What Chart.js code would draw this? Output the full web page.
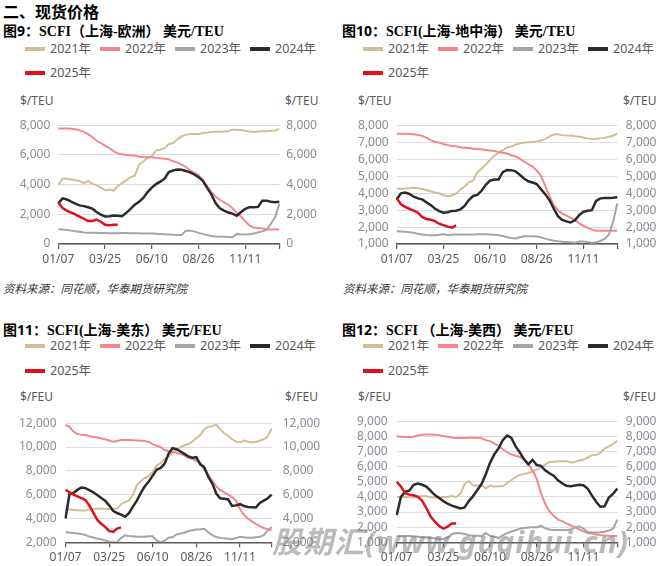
<!DOCTYPE html>
<html>
<head>
<meta charset="utf-8">
<script src="https://cdn.jsdelivr.net/npm/chart.js@4.4.1/dist/chart.umd.min.js"></script>
<style>
  body { margin: 0; width: 661px; height: 566px; background: #fff; position: relative; overflow: hidden;
         font-family: 'Noto Sans', 'Noto Sans CJK SC', sans-serif; }
  .abs { position: absolute; white-space: nowrap; }
  .head { font-size: 16px; font-weight: bold; line-height: 20px; color: #000; }
  .title { font-size: 14px; font-weight: bold; line-height: 18px; color: #000; }
  .title .ser { font-family: 'Liberation Serif', 'Noto Sans CJK SC', serif; }
  .unit { font-size: 12px; line-height: 16px; color: #595959; }
  .src { font-size: 11.5px; line-height: 16px; font-style: italic; color: #333; }
  .leg { font-size: 12.5px; line-height: 16px; color: #595959; }
  .sw { position: absolute; width: 20px; height: 4px; }
  canvas { position: absolute; }
  .wm { font-size: 30px; font-weight: bold; font-style: italic; color: rgba(120,120,120,0.5); letter-spacing: 1px; }
</style>
</head>
<body>
<div class="abs head" style="left:3px;top:2px">二、现货价格</div>

<div class="abs title" style="left:3px;top:22px">图9：<span class="ser">SCFI（上海-欧洲） 美元/TEU</span></div>
<div class="abs title" style="left:342px;top:22px">图10：<span class="ser">SCFI(上海-地中海） 美元/TEU</span></div>
<div class="abs title" style="left:3px;top:321px">图11：<span class="ser">SCFI(上海-美东） 美元/FEU</span></div>
<div class="abs title" style="left:342px;top:321px">图12：<span class="ser">SCFI （上海-美西） 美元/FEU</span></div>

<div class="abs unit" style="left:20px;top:93px">$/TEU</div>
<div class="abs unit" style="left:285px;top:93px">$/TEU</div>
<div class="abs unit" style="left:358px;top:93px">$/TEU</div>
<div class="abs unit" style="left:623px;top:93px">$/TEU</div>
<div class="abs unit" style="left:20px;top:389px">$/FEU</div>
<div class="abs unit" style="left:285px;top:389px">$/FEU</div>
<div class="abs unit" style="left:358px;top:389px">$/FEU</div>
<div class="abs unit" style="left:623px;top:389px">$/FEU</div>

<div class="abs src" style="left:3px;top:281px">资料来源：同花顺，华泰期货研究院</div>
<div class="abs src" style="left:343px;top:281px">资料来源：同花顺，华泰期货研究院</div>

<div id="legends"></div>

<canvas id="c9" width="330" height="165" style="left:0px;top:110px"></canvas>
<canvas id="c10" width="331" height="165" style="left:330px;top:110px"></canvas>
<canvas id="c11" width="330" height="161" style="left:0px;top:405px"></canvas>
<canvas id="c12" width="331" height="161" style="left:330px;top:405px"></canvas>

<div class="abs wm" style="left:272px;top:518px">股期汇(www.guqihui.cn)</div>

<script>
const weeks = ['01/07','01/14','01/21','01/28','02/04','02/11','02/18','02/25','03/04','03/11','03/18','03/25',
  '04/01','04/08','04/15','04/22','04/29','05/06','05/13','05/20','05/27','06/03','06/10','06/17','06/24',
  '07/01','07/08','07/15','07/22','07/29','08/05','08/12','08/19','08/26','09/02','09/09','09/16','09/23','09/30',
  '10/07','10/14','10/21','10/28','11/04','11/11','11/18','11/25','12/02','12/09','12/16','12/23','12/30','01/06'];

const seriesNames = ['2021年', '2022年', '2023年', '2024年', '2025年'];
const seriesColors = ['#D2BD96', '#F4868C', '#A5A5A5', '#2B2B2B', '#E0101A'];
const seriesWidths = [2, 2, 2, 2.5, 2.5];

// 图9 上海-欧洲 $/TEU
const euro2021 = [4000,4400,4400,4350,4300,4250,4100,4250,4050,3950,3800,3620,3670,3600,3900,4100,4300,4500,4600,5350,
  5550,5800,5900,6300,6350,6450,6720,6800,7050,7250,7350,7400,7400,7400,7480,7500,7550,7560,7560,7580,
  7600,7700,7680,7670,7620,7580,7550,7580,7600,7600,7620,7650,7750];
const euro2022 = [7780,7780,7780,7760,7720,7650,7550,7400,7200,6950,6800,6620,6450,6250,6100,6050,6000,5980,5950,5880,
  5850,5850,5840,5800,5770,5740,5700,5570,5500,5350,5200,4950,4800,4640,4300,3900,3500,3200,2980,2800,
  2650,2400,2100,1850,1520,1250,1100,1080,1050,1000,980,970,970];
const euro2023 = [1000,980,950,900,860,820,780,750,750,750,740,740,720,720,720,740,740,730,720,720,
  710,710,700,690,680,660,640,620,600,600,900,900,850,750,680,600,540,510,490,480,
  470,450,680,650,640,660,700,780,850,950,1350,1800,2700];
const euro2024 = [2740,3070,3000,2850,2720,2600,2550,2470,2380,2150,1980,1860,1870,1920,1900,1870,2100,2360,2650,2850,
  3100,3500,3800,4030,4200,4400,4850,4950,5020,5000,4920,4820,4680,4500,4250,3800,3350,2750,2400,2250,
  2120,2050,1900,2150,2360,2480,2480,2500,2920,2920,2850,2820,2850];
const euro2025 = [2800,2420,2250,2120,2000,1850,1700,1550,1550,1650,1500,1300,1270,1300,1300];

// 图10 上海-地中海 $/TEU
const med2021 = [4270,4270,4280,4300,4330,4300,4250,4190,4120,4050,4000,3880,3840,3870,3980,4220,4400,4650,4750,5250,
  5450,5700,5970,6240,6400,6550,6720,6760,6880,6950,7000,7020,7040,7060,7120,7220,7350,7480,7500,7440,
  7420,7420,7370,7340,7300,7250,7220,7230,7250,7280,7350,7400,7550];
const med2022 = [7520,7520,7520,7510,7500,7450,7400,7300,7150,7050,7000,6920,6850,6800,6780,6720,6700,6680,6630,6610,
  6600,6560,6530,6500,6450,6400,6350,6250,6180,6050,5880,5720,5600,5350,5050,4450,3840,3300,3000,2800,
  2680,2550,2420,2220,2080,1950,1850,1780,1780,1780,1780,1800,1780];
const med2023 = [1750,1740,1720,1700,1660,1600,1560,1530,1520,1520,1550,1580,1530,1550,1560,1560,1560,1560,1560,1570,
  1580,1570,1560,1550,1520,1480,1400,1350,1330,1400,1460,1460,1460,1450,1400,1320,1250,1200,1170,1140,
  1120,1100,1080,1150,1150,1120,1080,1100,1180,1300,1550,2300,3400];
const med2024 = [3650,4000,4040,3960,3800,3700,3640,3470,3300,3100,2950,2850,2880,2960,2970,3050,3250,3600,3840,3900,
  4150,4500,4750,4810,4810,5250,5380,5370,5300,5100,4880,4710,4640,4550,4250,3950,3600,3100,2650,2420,
  2340,2270,2400,2700,2900,2970,3000,3550,3700,3720,3720,3730,3760];
const med2025 = [3700,3350,3200,3080,2970,2850,2600,2480,2440,2350,2200,2120,2030,1970,2100];

// 图11 上海-美东 $/FEU
const east2021 = [4780,4750,4720,4700,4660,4660,4760,4800,4820,4830,4820,4800,4800,4830,5200,5380,5500,6000,6800,7150,
  7400,7550,7900,8450,8650,9000,9200,9500,9750,10000,10150,10250,10450,10750,11000,11500,11700,11750,11900,11500,
  11150,10950,10650,10450,10380,10550,10450,10400,10420,10550,10650,10900,11550];
const east2022 = [11860,11700,11300,11100,11020,11000,10900,10850,10800,10720,10650,10550,10450,10500,10580,10580,10580,10560,10540,10520,
  10500,10430,10250,10100,10000,9750,9650,9580,9520,9420,9280,9120,8980,8850,8650,8100,7650,7150,6700,6400,
  6200,6000,5800,5500,4800,4300,4000,3750,3550,3350,3200,3100,3000];
const east2023 = [2870,2820,2780,2740,2700,2620,2480,2400,2320,2250,2150,2050,2000,2000,2350,2580,2520,2500,2460,2460,
  2460,2500,2500,2150,2000,2150,2380,2440,2660,2730,2800,2950,3020,3070,3100,3140,2850,2600,2450,2380,
  2330,2300,2250,2350,2460,2420,2380,2380,2420,2460,2600,3000,3280];
const east2024 = [4000,6050,6140,6400,6600,6550,6380,6200,5980,5720,5500,5100,4640,4460,4320,4150,4450,5000,5500,6150,
  6700,7100,7600,8100,8250,8600,9450,9900,9820,9620,9420,9200,9100,9150,8550,8300,7500,6950,6100,5700,
  5650,5600,5050,5100,5200,5050,4970,4950,4920,5300,5500,5700,6000];
const east2025 = [6410,6200,6000,5850,5700,5550,5100,4500,3900,3550,3300,2950,2870,3150,3250];

// 图12 上海-美西 $/FEU
const west2021 = [4000,4000,4000,4000,3980,4020,4050,4050,3980,3960,3980,4000,4000,4050,3980,4200,4850,5050,4750,4750,
  4800,4550,4750,4680,4700,4700,4900,5100,5300,5450,5520,5580,5680,5800,5950,6150,6300,6320,6340,6350,
  6360,6280,6300,6420,6450,6600,6750,6780,6900,7200,7340,7500,7700];
const west2022 = [8000,7980,7960,7950,7980,8050,8100,8120,8120,8100,8080,8020,7970,7920,7890,7890,7890,7900,7910,7910,
  7880,7750,7680,7520,7380,7150,6950,6810,6720,6650,6500,6200,5750,5200,4250,3550,3050,2750,2500,2400,
  2250,2120,2000,1850,1720,1620,1580,1520,1480,1450,1430,1420,1420];
const west2023 = [1420,1420,1420,1420,1400,1370,1340,1310,1280,1260,1240,1220,1300,1550,1620,1600,1550,1470,1440,1440,
  1400,1620,1430,1380,1280,1450,1600,1700,1800,1900,1950,1980,1990,2000,2080,1920,1850,1820,1810,1810,
  1810,1840,1950,2050,1900,1700,1640,1640,1660,1700,1780,1900,2500];
const west2024 = [2800,4000,4330,4420,4800,4880,4800,4680,4400,4120,3920,3720,3550,3420,3330,3240,3300,3720,4050,4450,
  4850,5500,6250,6800,7200,7750,8050,7910,7350,6950,6500,6150,6450,6100,6050,5750,5560,5400,5100,4900,
  4730,4710,4750,4800,4770,4550,4100,3680,3350,3380,3950,4200,4550];
const west2025 = [5000,4680,4250,4150,4110,4000,3750,3250,2700,2360,2080,1900,2030,2250,2250];

const FONT = "'Noto Sans', 'Noto Sans CJK SC', sans-serif";
Chart.defaults.font.family = FONT;

// legends (HTML, two rows like the original)
const legendBox = document.getElementById('legends');
function addLegend(x0, rowY) {
  seriesNames.forEach((name, i) => {
    const col = i % 4, row = Math.floor(i / 4);
    const x = x0 + col * 75, cy = rowY[row];
    const sw = document.createElement('div');
    sw.className = 'sw';
    sw.style.left = x + 'px';
    sw.style.top = (cy - 2) + 'px';
    sw.style.background = seriesColors[i];
    legendBox.appendChild(sw);
    const t = document.createElement('div');
    t.className = 'abs leg';
    t.style.left = (x + 25) + 'px';
    t.style.top = (cy - 8) + 'px';
    t.textContent = name;
    legendBox.appendChild(t);
  });
}
addLegend(25, [49, 72.5]);
addLegend(363, [49, 72.5]);
addLegend(25, [346, 371]);
addLegend(363, [346, 371]);

function makeChart(id, series, yMin, yMax, yStep, box) {
  const ctx = document.getElementById(id).getContext('2d');
  return new Chart(ctx, {
    type: 'line',
    data: {
      labels: weeks,
      datasets: series.map((d, i) => ({
        label: seriesNames[i],
        data: d,
        borderColor: seriesColors[i],
        borderWidth: seriesWidths[i],
        pointRadius: 0,
        fill: false,
        tension: 0,
        order: 4 - i
      }))
    },
    options: {
      responsive: false,
      animation: false,
      events: [],
      layout: { padding: { top: box.top, left: 0, right: 0, bottom: 0 } },
      plugins: { legend: { display: false }, tooltip: { enabled: false } },
      scales: {
        x: {
          type: 'category',
          offset: false,
          afterFit: s => { s.height = box.xh; },
          afterBuildTicks: s => {
            s.ticks = s.ticks.filter(t => t.value % 11 === 0 || t.value === weeks.length - 1);
          },
          ticks: {
            autoSkip: false, maxRotation: 0, padding: 3, color: '#595959',
            font: { size: 12 },
            callback: v => (v % 11 === 0 ? weeks[v] : '')
          },
          grid: { drawOnChartArea: false, tickLength: 5, color: '#595959', lineWidth: 1.2 },
          border: { display: true, color: '#595959', width: 1.5 }
        },
        y: {
          position: 'left',
          min: yMin, max: yMax,
          afterFit: s => { s.width = box.yl; },
          ticks: { stepSize: yStep, autoSkip: false, padding: box.pl, color: '#8A8A96', font: { size: 12 },
                   callback: v => v.toLocaleString('en-US') },
          grid: { color: '#D9DCE6', lineWidth: 1, drawTicks: false },
          border: { display: false }
        },
        y2: {
          position: 'right',
          min: yMin, max: yMax,
          afterFit: s => { s.width = box.yr; },
          ticks: { stepSize: yStep, autoSkip: false, padding: box.pr, color: '#8A8A96', font: { size: 12 },
                   callback: v => v.toLocaleString('en-US') },
          grid: { display: false, drawTicks: false },
          border: { display: false }
        }
      }
    }
  });
}

makeChart('c9', [euro2021, euro2022, euro2023, euro2024, euro2025], 0, 8000, 2000,
  { top: 13.3, xh: 31, yl: 58.3, yr: 50.7, pl: 8, pr: 7 });
makeChart('c10', [med2021, med2022, med2023, med2024, med2025], 1000, 8000, 1000,
  { top: 13.3, xh: 31, yl: 66.7, yr: 43.7, pl: 8, pr: 8.5 });
makeChart('c11', [east2021, east2022, east2023, east2024, east2025], 2000, 12000, 2000,
  { top: 15, xh: 23.7, yl: 65.5, yr: 58.3, pl: 9, pr: 11 });
makeChart('c12', [west2021, west2022, west2023, west2024, west2025], 1000, 9000, 1000,
  { top: 15.7, xh: 23.7, yl: 66.7, yr: 43.7, pl: 9, pr: 8.5 });
</script>
</body>
</html>
